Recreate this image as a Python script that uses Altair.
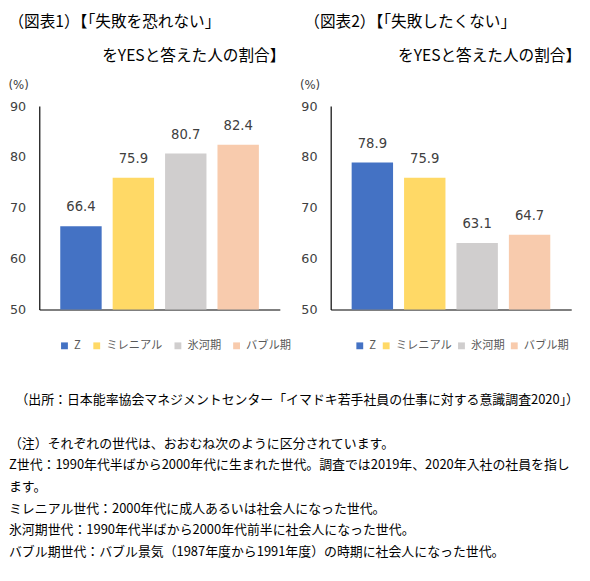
import altair as alt
import pandas as pd

generations = ["Z", "ミレニアル", "氷河期", "バブル期"]
fear_values = [66.4, 75.9, 80.7, 82.4]
avoid_values = [78.9, 75.9, 63.1, 64.7]
gen_colors = ["#4472C4", "#FFD966", "#D0CECE", "#F8CBAD"]
y_ticks = [50, 60, 70, 80, 90]

INDENT = "\u200b" + "\u3000" * 6
title1 = ["（図表1）【「失敗を恐れない」", INDENT + "をYESと答えた人の割合】"]
title2 = ["（図表2）【「失敗したくない」", INDENT + "をYESと答えた人の割合】"]

note_lines = [
    "\u200b\u3000（出所：日本能率協会マネジメントセンター「イマドキ若手社員の仕事に対する意識調査2020」）",
    "",
    "（注）それぞれの世代は、おおむね次のように区分されています。",
    "Z世代：1990年代半ばから2000年代に生まれた世代。調査では2019年、2020年入社の社員を指し",
    "ます。",
    "ミレニアル世代：2000年代に成人あるいは社会人になった世代。",
    "氷河期世代：1990年代半ばから2000年代前半に社会人になった世代。",
    "バブル期世代：バブル景気（1987年度から1991年度）の時期に社会人になった世代。",
]

JP = "Noto Sans CJK JP"
NUM = "DejaVu Sans"


def panel(values, title_lines, title_dx, legend_x, col_pad):
    df = pd.DataFrame({"gen": generations, "value": values})
    base = alt.Chart(df).encode(
        x=alt.X(
            "gen:N",
            sort=generations,
            scale=alt.Scale(paddingInner=0.21, paddingOuter=0.4),
            axis=alt.Axis(labels=False, ticks=False, title=None,
                          domainColor="#000000", domainWidth=1.2),
        )
    )
    yscale = alt.Scale(domain=[50, 90], nice=False, zero=False)
    bars = base.mark_bar().encode(
        y=alt.Y(
            "value:Q",
            scale=yscale,
            axis=alt.Axis(
                values=y_ticks, grid=False, ticks=False, domainColor="#000000",
                domainWidth=1.2, labelPadding=14, labelFont=NUM, labelFontSize=13,
                labelColor="#404040", title="(%)", titleAngle=0, titleX=-32,
                titleY=-22, titleAlign="left", titleBaseline="middle",
                titleFont=NUM, titleFontSize=12, titleFontWeight="normal",
                titleColor="#404040",
            ),
        ),
        y2=alt.datum(50),
        color=alt.Color(
            "gen:N",
            sort=generations,
            scale=alt.Scale(domain=generations, range=gen_colors),
            legend=alt.Legend(
                orient="none", direction="horizontal", legendX=legend_x,
                legendY=239, title=None, symbolType="square", symbolSize=49,
                symbolStrokeWidth=0, labelFont=JP, labelFontSize=11.5,
                labelColor="#595959", columnPadding=col_pad, labelOffset=4,
                columns=4,
            ),
        ),
    )
    labels = base.mark_text(
        dy=-19, baseline="middle", font=NUM, fontSize=13.5, color="#404040"
    ).encode(y=alt.Y("value:Q", scale=yscale), text=alt.Text("value:Q", format=".1f"))
    return alt.layer(bars, labels).properties(
        width=246,
        height=208,
        title=alt.TitleParams(
            text=title_lines, anchor="start", frame="group", dx=title_dx,
            font=JP, fontSize=16, fontWeight="normal", color="#000000",
            lineHeight=35, offset=15,
        ),
    )


left = panel(fear_values, title1, -31.5, 20, 10)
right = panel(avoid_values, title2, -27, 24, 4)

top = alt.hconcat(left, right, spacing=8).resolve_scale(color="independent").resolve_legend(color="independent")

notes_df = pd.DataFrame({"line": note_lines, "row": list(range(len(note_lines)))})
notes = alt.Chart(notes_df).mark_text(
    align="left", baseline="middle", font=JP, fontSize=13.2, color="#000000"
).encode(
    x=alt.value(-31),
    y=alt.Y("row:O", axis=None, scale=alt.Scale(padding=0.5)),
    text="line:N",
).properties(width=500, height=177)

chart = alt.vconcat(top, notes, spacing=39).properties(padding=0).configure_view(stroke=None)

chart.save("out.html", embed_options={"renderer": "svg", "actions": False})
